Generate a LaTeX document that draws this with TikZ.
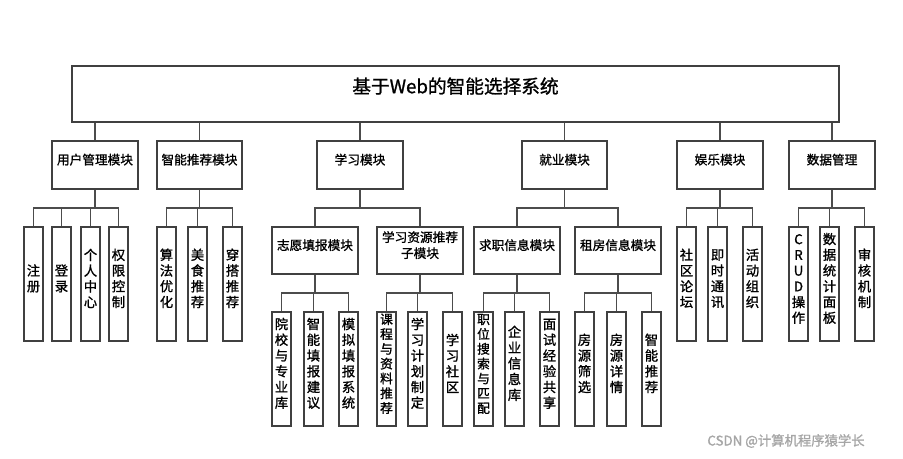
\documentclass[tikz,border=0pt]{standalone}
\usepackage{fontspec}
\setmainfont{Noto Sans CJK SC}[FakeBold=1.2,AutoFakeBold=1.2]
\usetikzlibrary{fit}
\begin{document}
\begin{tikzpicture}[x=0.75pt,y=-0.75pt,
  box/.style={draw=black!75,line width=0.8pt,inner sep=0pt,align=center},
  leaf/.style={box,font=\fontsize{10}{11.8}\selectfont},
  tight/.style={box,font=\fontsize{9.6}{11.1}\selectfont},
  mid/.style={box,font=\fontsize{9.5}{12}\selectfont},
  ln/.style={draw=black!70,line width=0.8pt}]
\useasboundingbox (0,0) rectangle (903,459);
\newcommand\bx[7]{\node[#1,fit={(#3,#4)(#5,#6)}] (#2) {#7};}
% title
\bx{box}{root}{72}{66}{839}{122}{\fontsize{14}{16}\selectfont 基于Web的智能选择系统}
% level 1
\bx{mid}{a}{52}{141}{138}{189}{用户管理模块}
\bx{mid}{b}{157}{141}{242}{189}{智能推荐模块}
\bx{mid}{c}{317}{141}{403}{189}{学习模块}
\bx{mid}{d}{522}{141}{607}{189}{就业模块}
\bx{mid}{e}{677}{141}{763}{189}{娱乐模块}
\bx{mid}{f}{789}{141}{875}{189}{数据管理}
\foreach \n in {a,b,c,d,e,f}{\draw[ln] (\n.north |- root.south) -- (\n.north);}
% level 2 subs
\bx{mid}{c1}{272}{227}{358}{274}{志愿填报模块}
\bx{mid}{c2}{377}{227}{463}{274}{学习资源推荐\\子模块}
\bx{mid}{d1}{474}{227}{560}{274}{求职信息模块}
\bx{mid}{d2}{575}{227}{661}{274}{租房信息模块}
% leaves row 1
\bx{leaf}{a1}{24}{227}{43}{341}{注\\册}
\bx{leaf}{a2}{52}{227}{71}{341}{登\\录}
\bx{leaf}{a3}{81}{227}{100}{341}{个\\人\\中\\心}
\bx{leaf}{a4}{109}{227}{128}{341}{权\\限\\控\\制}
\bx{leaf}{b1}{157}{227}{176}{341}{算\\法\\优\\化}
\bx{leaf}{b2}{188}{227}{207}{341}{美\\食\\推\\荐}
\bx{leaf}{b3}{223}{227}{242}{341}{穿\\搭\\推\\荐}
\bx{leaf}{e1}{677}{227}{696}{341}{社\\区\\论\\坛}
\bx{leaf}{e2}{708}{227}{727}{341}{即\\时\\通\\讯}
\bx{leaf}{e3}{743}{227}{762}{341}{活\\动\\组\\织}
\bx{leaf}{f1}{789}{227}{808}{341}{C\\R\\U\\D\\操\\作}
\bx{leaf}{f2}{820}{227}{839}{341}{数\\据\\统\\计\\面\\板}
\bx{leaf}{f3}{855}{227}{874}{341}{审\\核\\机\\制}
% leaves row 2
\bx{leaf}{g1}{272}{312}{291}{426}{院\\校\\与\\专\\业\\库}
\bx{leaf}{g2}{304}{312}{323}{426}{智\\能\\填\\报\\建\\议}
\bx{leaf}{g3}{339}{312}{358}{426}{模\\拟\\填\\报\\系\\统}
\bx{tight}{h1}{377}{312}{396}{426}{课\\程\\与\\资\\料\\推\\荐}
\bx{leaf}{h2}{408}{312}{427}{426}{学\\习\\计\\划\\制\\定}
\bx{leaf}{h3}{443}{312}{462}{426}{学\\习\\社\\区}
\bx{tight}{i1}{474}{312}{493}{426}{职\\位\\搜\\索\\与\\匹\\配}
\bx{leaf}{i2}{505}{312}{524}{426}{企\\业\\信\\息\\库}
\bx{leaf}{i3}{540}{312}{559}{426}{面\\试\\经\\验\\共\\享}
\bx{leaf}{j1}{575}{312}{594}{426}{房\\源\\筛\\选}
\bx{leaf}{j2}{607}{312}{626}{426}{房\\源\\详\\情}
\bx{leaf}{j3}{642}{312}{661}{426}{智\\能\\推\\荐}
% connectors
\coordinate (bar1) at (0,208);
\coordinate (bar2) at (0,293);
\foreach \p/\cs in {a/{a1,a2,a3,a4},b/{b1,b2,b3},c/{c1,c2},d/{d1,d2},e/{e1,e2,e3},f/{f1,f2,f3}}{
  \foreach \ch in \cs {\draw[ln] (\p.south) -- (\p.south |- bar1) -| (\ch.north);}}
\foreach \p/\cs in {c1/{g1,g2,g3},c2/{h1,h2,h3},d1/{i1,i2,i3},d2/{j1,j2,j3}}{
  \foreach \ch in \cs {\draw[ln] (\p.south) -- (\p.south |- bar2) -| (\ch.north);}}
\node[text=black!35,font=\fontsize{10}{12}\selectfont] (wm) at (786,441) {CSDN @计算机程序猿学长};
\end{tikzpicture}
\end{document}
